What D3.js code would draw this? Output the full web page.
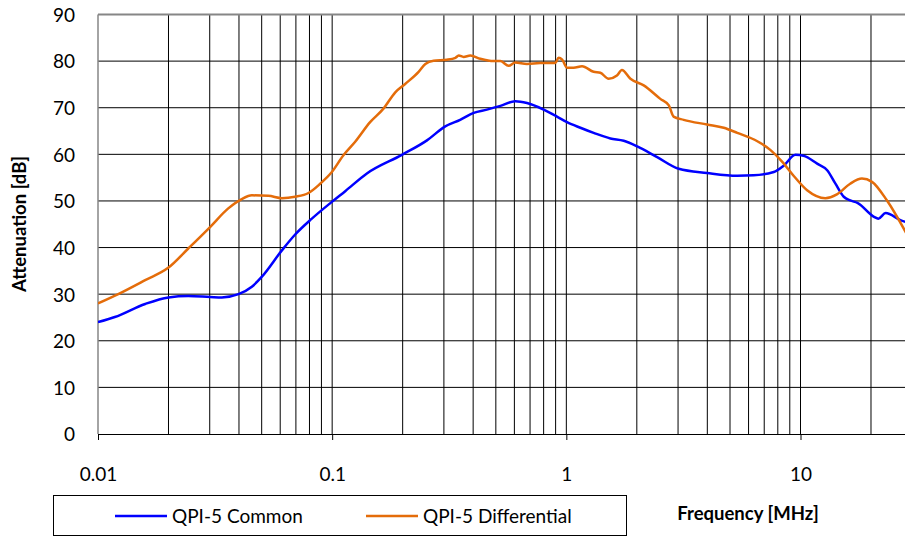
<!DOCTYPE html>
<html><head><meta charset="utf-8">
<script src="https://cdn.jsdelivr.net/npm/d3@7"></script>
<style>body{margin:0;background:#fff}svg{display:block;font-family:Lato,"Open Sans",sans-serif}</style>
</head><body><svg id="c" width="905" height="536"></svg>
<script>
const yTicks = [0,10,20,30,40,50,60,70,80,90];
const xTickLabels = [0.01,0.1,1,10];
const seriesNames = ["QPI-5 Common","QPI-5 Differential"];
const commonF = [0.01,0.0118,0.0159,0.02,0.0243,0.0301,0.0338,0.0398,0.0454,0.05,0.061,0.0695,0.0819,0.0997,0.1137,0.1407,0.1986,0.254,0.304,0.352,0.402,0.458,0.523,0.605,0.679,0.80,0.912,1.007,1.148,1.308,1.542,1.758,2.006,2.443,3.02,3.99,5.37,6.31,7.69,8.49,9.52,10.3,11.78,13.0,14.1,15.3,16.3,17.5,20.6,21.5,23.1,26.7,28.5];
const commonDB = [24.0,25.1,27.9,29.3,29.6,29.4,29.3,30.0,31.6,33.7,39.4,42.8,46.2,49.8,52.1,55.9,59.9,63.0,66.0,67.4,68.9,69.6,70.4,71.4,71.0,69.6,68.1,66.9,65.7,64.6,63.4,62.9,61.7,59.4,56.9,56.0,55.4,55.5,56.2,57.6,59.9,59.7,58.0,56.6,53.7,50.9,50.1,49.6,46.6,46.2,47.4,45.9,45.4];
const diffF = [0.01,0.0122,0.0159,0.02,0.0243,0.0301,0.036,0.0411,0.0454,0.0534,0.061,0.0695,0.0792,0.0889,0.0997,0.1117,0.1254,0.1452,0.1656,0.186,0.205,0.234,0.25,0.271,0.309,0.336,0.347,0.364,0.389,0.429,0.489,0.523,0.567,0.605,0.679,0.774,0.897,0.927,0.96,1.007,1.074,1.167,1.308,1.397,1.516,1.645,1.727,1.878,2.14,2.52,2.74,2.87,3.17,3.99,4.70,5.37,6.54,7.45,8.36,9.38,10.67,12.77,14.3,16.3,18.3,20.2,23.4,28.5];
const diffDB = [28.0,30.0,33.0,35.7,39.8,44.4,48.4,50.4,51.2,51.1,50.6,50.9,51.7,53.7,56.2,59.8,62.7,66.9,69.8,73.3,75.1,77.7,79.4,80.1,80.3,80.7,81.2,80.9,81.2,80.5,80.0,80.0,79.0,79.7,79.4,79.6,79.6,80.7,80.3,78.6,78.6,78.9,77.7,77.5,76.2,76.9,78.1,76.2,74.8,71.9,70.5,68.1,67.4,66.4,65.7,64.6,62.8,60.9,58.4,55.3,52.3,50.6,51.4,53.7,54.8,54.1,50.1,42.8];
const colors = ["#0000ff","#e46c0a"];

const svg = d3.select("#c");
const x = d3.scaleLog().domain([0.01,30]).range([98, 98 + 702.5*Math.log10(3000)/3]);
const y = d3.scaleLinear().domain([0,90]).range([434,14.5]);

// grid verticals
const vGrid = [];
for (let d=0.01; d<30; d*=10) for (let k=1;k<10;k++){ const v=d*k; if (v<=30) vGrid.push(v); }
svg.append("g").selectAll("line").data(vGrid.filter(v=>v>0.01)).join("line")
  .attr("x1",d=>x(d)).attr("x2",d=>x(d)).attr("y1",y(0)).attr("y2",y(90))
  .attr("stroke","#000").attr("stroke-width",1);
svg.append("g").selectAll("line").data(yTicks.filter(v=>v>0&&v<90)).join("line")
  .attr("x1",98).attr("x2",905).attr("y1",d=>y(d)).attr("y2",d=>y(d))
  .attr("stroke","#000").attr("stroke-width",1);
// top border & left axis
svg.append("line").attr("x1",98).attr("x2",905).attr("y1",y(90)).attr("y2",y(90)).attr("stroke","#868686").attr("stroke-width",2);
svg.append("line").attr("x1",98).attr("x2",98).attr("y1",y(90)).attr("y2",y(0)).attr("stroke","#868686").attr("stroke-width",1.5);
// x axis
const xa = svg.append("g").attr("transform",`translate(0,${y(0)})`)
  .call(d3.axisBottom(x).tickValues(xTickLabels).tickSize(6).tickFormat(d3.format("")).tickSizeOuter(0));
xa.select(".domain").attr("stroke","#000").attr("stroke-width",1.2);
xa.selectAll(".tick line").attr("stroke","#000");
xa.selectAll("text").attr("font-size",19).attr("fill","#000").attr("dy",null).attr("y",47).attr("font-family","Lato");
// y labels
const ya = svg.append("g").attr("transform","translate(98,0)")
  .call(d3.axisLeft(y).tickValues(yTicks).tickSize(0).tickPadding(23));
ya.select(".domain").remove();
ya.selectAll("text").attr("font-size",19).attr("fill","#000").attr("font-family","Lato").attr("dy","0.36em");

// lines
const line = d3.line().x(d=>x(d[0])).y(d=>y(d[1])).curve(d3.curveMonotoneX);
const clip = svg.append("clipPath").attr("id","pc").append("rect").attr("x",98).attr("y",0).attr("width",807).attr("height",440);
const series = [d3.zip(commonF,commonDB), d3.zip(diffF,diffDB)];
svg.append("g").attr("clip-path","url(#pc)").selectAll("path").data(series).join("path")
  .attr("d",line).attr("fill","none").attr("stroke",(d,i)=>colors[i]).attr("stroke-width",2.5).attr("stroke-linejoin","round");

// axis titles
svg.append("text").attr("transform","translate(26,224) rotate(-90)").attr("text-anchor","middle")
  .attr("font-size",18.5).attr("font-weight","bold").text("Attenuation [dB]");
svg.append("text").attr("x",748).attr("y",520).attr("text-anchor","middle")
  .attr("font-size",18.5).attr("font-weight","bold").text("Frequency [MHz]");

// legend
const lg = svg.append("g");
lg.append("rect").attr("x",53.5).attr("y",495.5).attr("width",573).attr("height",40).attr("fill","#fff").attr("stroke","#000").attr("stroke-width",1);
const lx = [115,366];
seriesNames.forEach((n,i)=>{
  lg.append("line").attr("x1",lx[i]).attr("x2",lx[i]+52).attr("y1",516).attr("y2",516).attr("stroke",colors[i]).attr("stroke-width",2.5);
  lg.append("text").attr("x",lx[i]+57).attr("y",522.5).attr("font-size",19).text(n);
});
</script></body></html>
